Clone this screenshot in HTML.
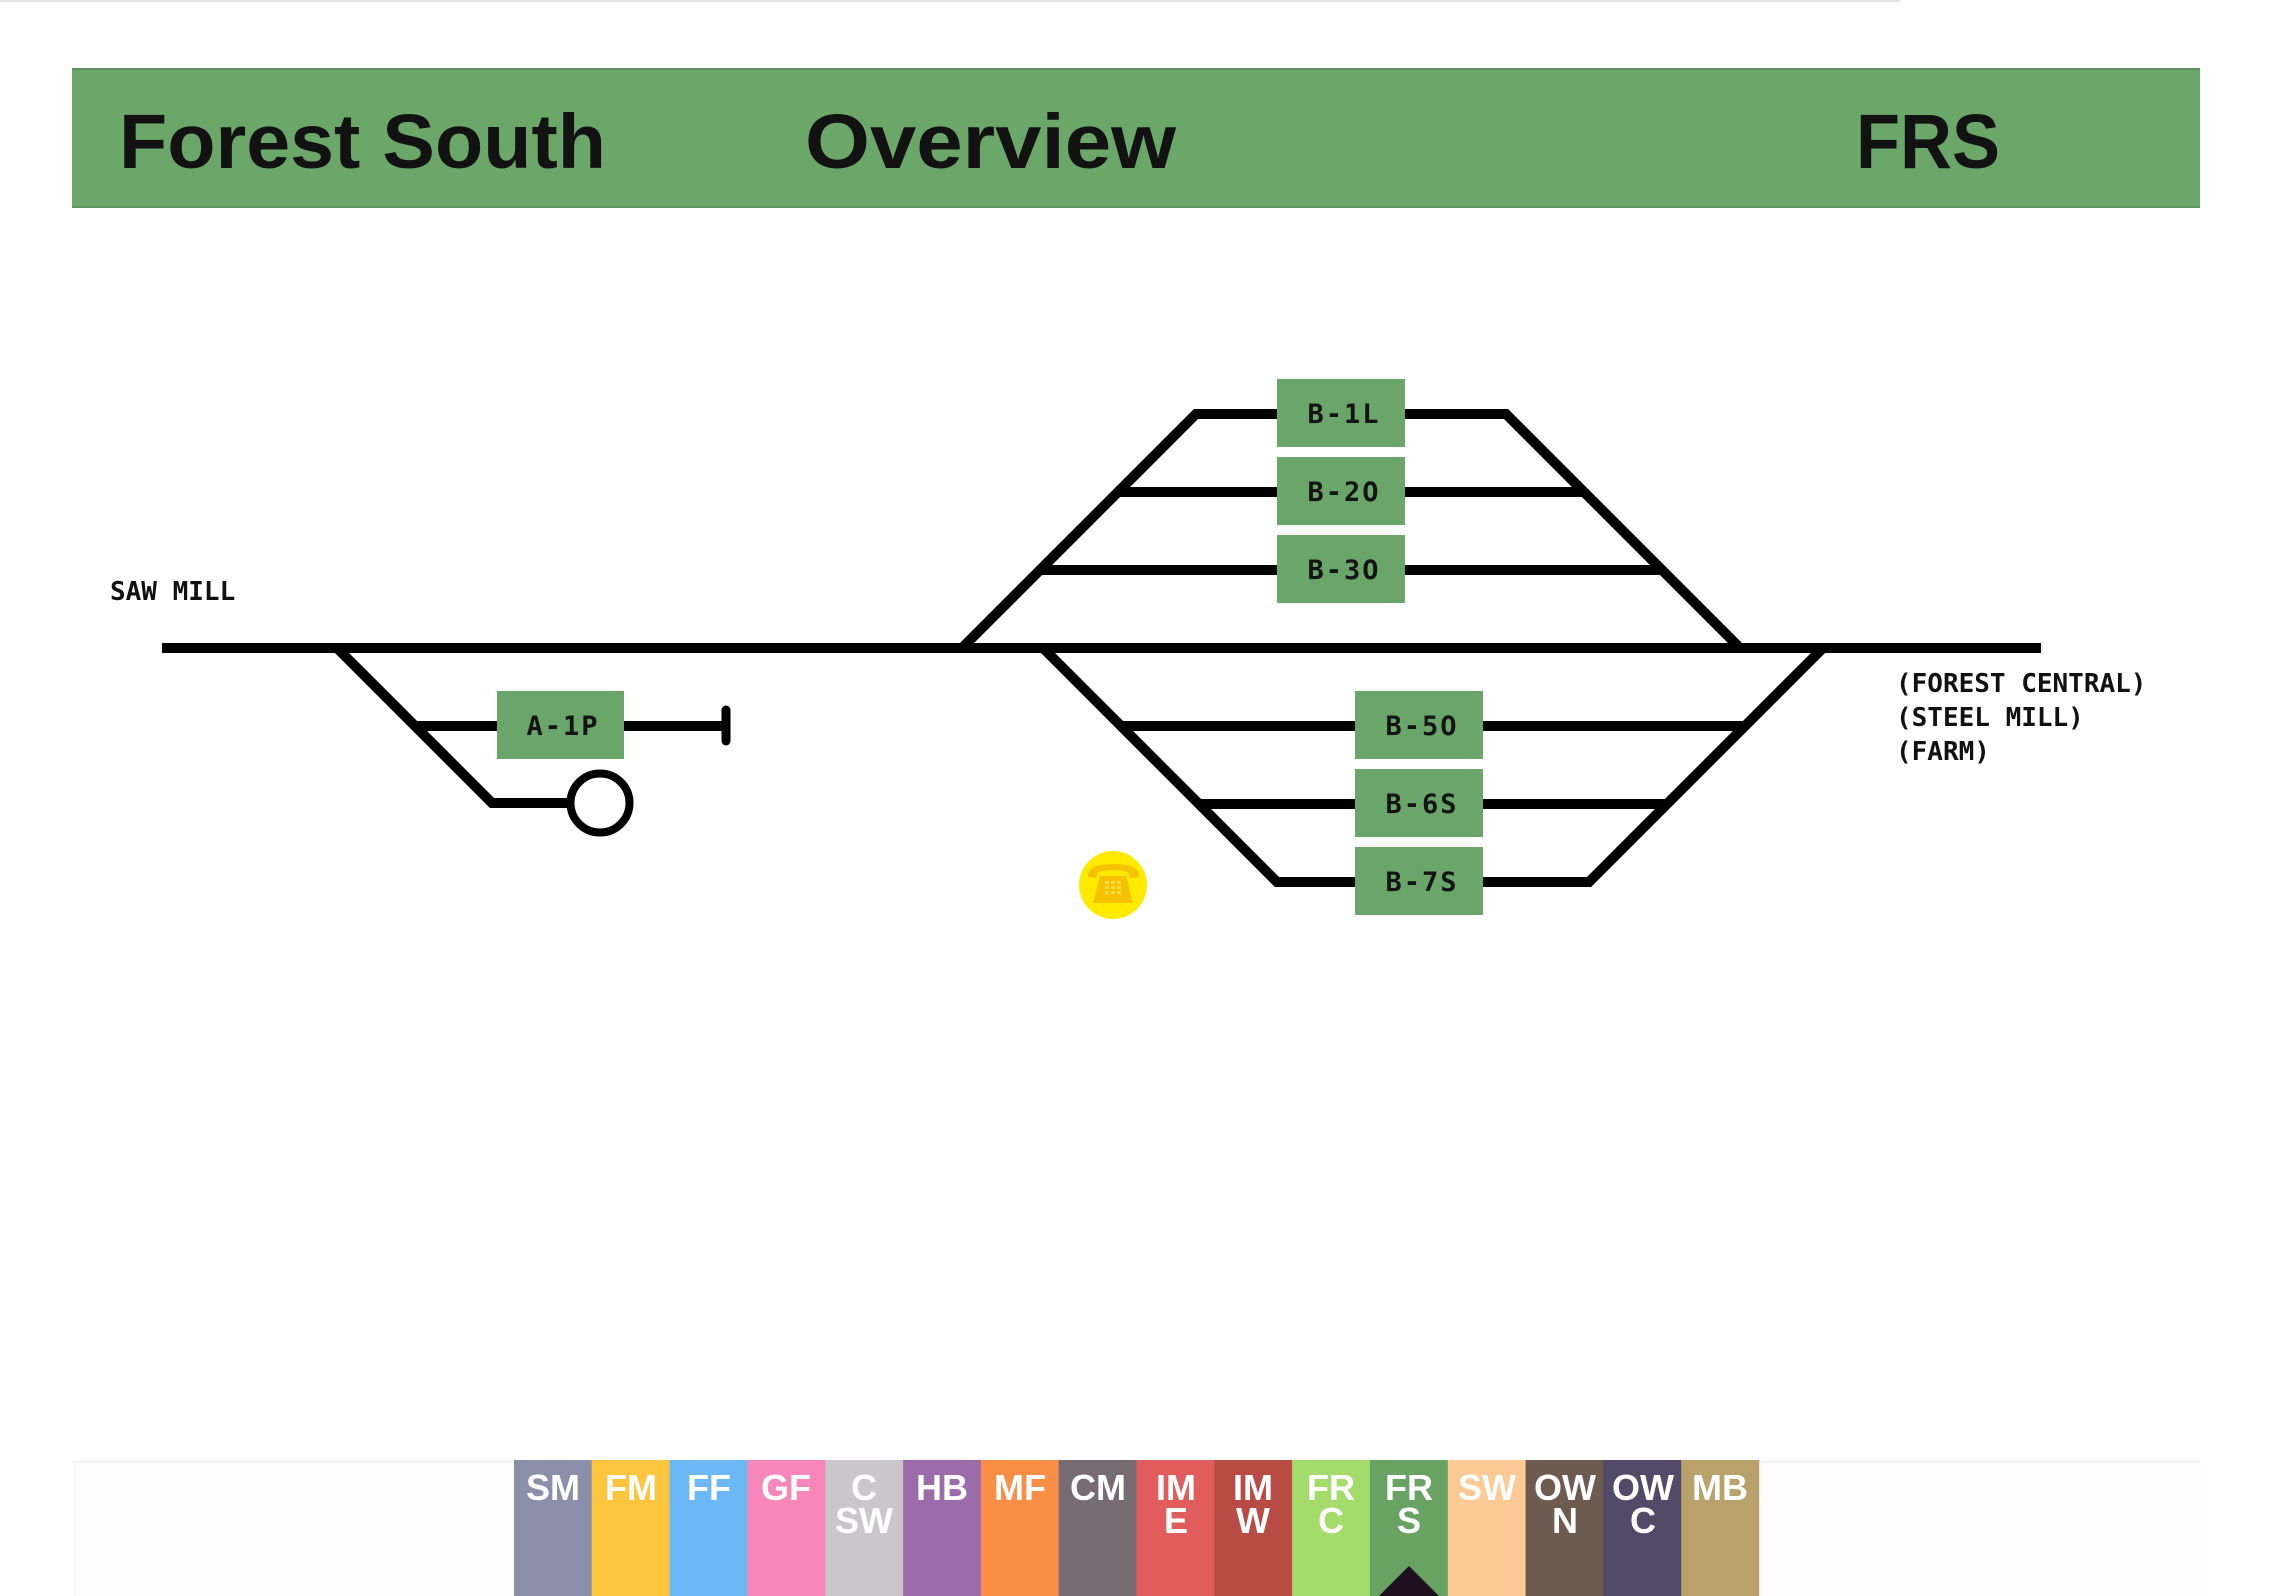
<!DOCTYPE html>
<html>
<head>
<meta charset="utf-8">
<style>
  html, body { margin:0; padding:0; background:#ffffff; }
  body { width:2274px; height:1596px; overflow:hidden; }
  svg { display:block; }
  .hdr { font-family:"Liberation Sans", sans-serif; font-weight:bold; font-size:77px; fill:#121212; }
  .mono { font-family:"DejaVu Sans Mono", "Liberation Mono", monospace; font-weight:bold; font-size:26px; fill:#111; }
  .lbl { font-family:"DejaVu Sans Mono", "Liberation Mono", monospace; font-weight:bold; font-size:27px; fill:#141414; letter-spacing:2px; text-anchor:middle; }
  .tab { font-family:"Liberation Sans", sans-serif; font-weight:bold; font-size:36px; fill:#ffffff; text-anchor:middle; }
</style>
</head>
<body>
<svg width="2274" height="1596" viewBox="0 0 2274 1596" xmlns="http://www.w3.org/2000/svg">
  <rect x="0" y="0" width="2274" height="1596" fill="#ffffff"/>
  <!-- faint scan noise at top -->
  <rect x="0" y="0" width="1900" height="2" fill="#d4d2d4" opacity="0.6"/>

  <!-- Header bar -->
  <rect x="72" y="68" width="2128" height="140" fill="#6aa769"/>
  <rect x="72" y="68" width="2128" height="2" fill="#5e935d"/>
  <rect x="72" y="206" width="2128" height="2" fill="#5e935d"/>
  <text class="hdr" x="119" y="168" textLength="487" lengthAdjust="spacingAndGlyphs">Forest South</text>
  <text class="hdr" x="805" y="168" textLength="371" lengthAdjust="spacingAndGlyphs">Overview</text>
  <text class="hdr" x="1856" y="168" textLength="144" lengthAdjust="spacingAndGlyphs">FRS</text>

  <!-- Track lines -->
  <g stroke="#000" stroke-width="10" fill="none" stroke-linejoin="miter" stroke-linecap="butt">
    <!-- main line -->
    <line x1="162" y1="648" x2="2041" y2="648"/>
    <!-- A section -->
    <polyline points="337,648 492,803 572,803"/>
    <line x1="415" y1="726" x2="726" y2="726"/>
    <!-- upper trapezoid -->
    <polyline points="962,648 1196,414 1506,414 1740,648"/>
    <line x1="1118" y1="492" x2="1584" y2="492"/>
    <line x1="1040" y1="570" x2="1662" y2="570"/>
    <!-- lower trapezoid -->
    <polyline points="1043,648 1277,882 1589,882 1823,648"/>
    <line x1="1121" y1="726" x2="1745" y2="726"/>
    <line x1="1199" y1="804" x2="1667" y2="804"/>
  </g>
  <!-- buffer stop -->
  <line x1="726" y1="710" x2="726" y2="741" stroke="#000" stroke-width="9" stroke-linecap="round"/>
  <!-- turntable circle -->
  <circle cx="600" cy="803" r="29.5" fill="#fff" stroke="#000" stroke-width="8"/>

  <!-- Boxes -->
  <g fill="#6aa66a">
    <rect x="497" y="691" width="127" height="68"/>
    <rect x="1277" y="379" width="128" height="68"/>
    <rect x="1277" y="457" width="128" height="68"/>
    <rect x="1277" y="535" width="128" height="68"/>
    <rect x="1355" y="691" width="128" height="68"/>
    <rect x="1355" y="769" width="128" height="68"/>
    <rect x="1355" y="847" width="128" height="68"/>
  </g>
  <text class="lbl" x="563" y="735">A-1P</text>
  <text class="lbl" x="1344" y="423">B-1L</text>
  <text class="lbl" x="1344" y="501">B-2O</text>
  <text class="lbl" x="1344" y="579">B-3O</text>
  <text class="lbl" x="1422" y="735">B-5O</text>
  <text class="lbl" x="1422" y="813">B-6S</text>
  <text class="lbl" x="1422" y="891">B-7S</text>

  <!-- Destination labels -->
  <text class="mono" x="110" y="600">SAW MILL</text>
  <text class="mono" x="1896" y="692">(FOREST CENTRAL)</text>
  <text class="mono" x="1896" y="726">(STEEL MILL)</text>
  <text class="mono" x="1896" y="760">(FARM)</text>

  <!-- Phone icon -->
  <circle cx="1113" cy="885" r="34" fill="#ffea00"/>
  <g fill="#f5c200">
    <path d="M1088,877 Q1087,864 1113,864 Q1140,864 1139,877 L1130,878 L1128,872 Q1113,868 1098,872 L1096,878 Z"/>
    <path d="M1100,876 L1126,876 L1133,903 L1093,903 Z"/>
  </g>
  <g fill="#ffd83a">
    <rect x="1105" y="881" width="4" height="3"/><rect x="1111" y="881" width="4" height="3"/><rect x="1117" y="881" width="4" height="3"/>
    <rect x="1105" y="886" width="4" height="3"/><rect x="1111" y="886" width="4" height="3"/><rect x="1117" y="886" width="4" height="3"/>
    <rect x="1105" y="891" width="4" height="3"/><rect x="1111" y="891" width="4" height="3"/><rect x="1117" y="891" width="4" height="3"/>
  </g>

  <!-- Bottom tab band -->
  <rect x="73" y="1462" width="2127" height="134" fill="#fdfbfc"/>
  <rect x="73" y="1461" width="2127" height="1.5" fill="#efeeef"/>

  <!-- Tabs -->
  <g>
    <rect x="514" y="1460" width="78.3" height="136" fill="#8b8fa9"/>
    <rect x="591.8" y="1460" width="78.3" height="136" fill="#fdc53d"/>
    <rect x="669.6" y="1460" width="78.3" height="136" fill="#6cb7f6"/>
    <rect x="747.4" y="1460" width="78.3" height="136" fill="#f787bb"/>
    <rect x="825.3" y="1460" width="78.3" height="136" fill="#c9c7ca"/>
    <rect x="903.1" y="1460" width="78.3" height="136" fill="#9b6ca9"/>
    <rect x="980.9" y="1460" width="78.3" height="136" fill="#fb8e46"/>
    <rect x="1058.7" y="1460" width="78.3" height="136" fill="#756b70"/>
    <rect x="1136.5" y="1460" width="78.3" height="136" fill="#e15c5c"/>
    <rect x="1214.3" y="1460" width="78.3" height="136" fill="#b94b45"/>
    <rect x="1292.1" y="1460" width="78.3" height="136" fill="#a4dc6b"/>
    <rect x="1369.9" y="1460" width="78.3" height="136" fill="#68a364"/>
    <rect x="1447.8" y="1460" width="78.3" height="136" fill="#fdc994"/>
    <rect x="1525.6" y="1460" width="78.3" height="136" fill="#6e5b50"/>
    <rect x="1603.4" y="1460" width="78.3" height="136" fill="#514a68"/>
    <rect x="1681.2" y="1460" width="78" height="136" fill="#b8a16b"/>
  </g>
  <g class="tab">
    <text x="553" y="1500">SM</text>
    <text x="631" y="1500">FM</text>
    <text x="709" y="1500">FF</text>
    <text x="786" y="1500">GF</text>
    <text x="864" y="1500">C</text><text x="864" y="1533">SW</text>
    <text x="942" y="1500">HB</text>
    <text x="1020" y="1500">MF</text>
    <text x="1098" y="1500">CM</text>
    <text x="1176" y="1500">IM</text><text x="1176" y="1533">E</text>
    <text x="1253" y="1500">IM</text><text x="1253" y="1533">W</text>
    <text x="1331" y="1500">FR</text><text x="1331" y="1533">C</text>
    <text x="1409" y="1500">FR</text><text x="1409" y="1533">S</text>
    <text x="1487" y="1500">SW</text>
    <text x="1565" y="1500">OW</text><text x="1565" y="1533">N</text>
    <text x="1643" y="1500">OW</text><text x="1643" y="1533">C</text>
    <text x="1720" y="1500">MB</text>
  </g>
  <!-- current-station marker -->
  <polygon points="1378,1597 1409,1566 1440,1597" fill="#1e0f1e"/>
</svg>
</body>
</html>
